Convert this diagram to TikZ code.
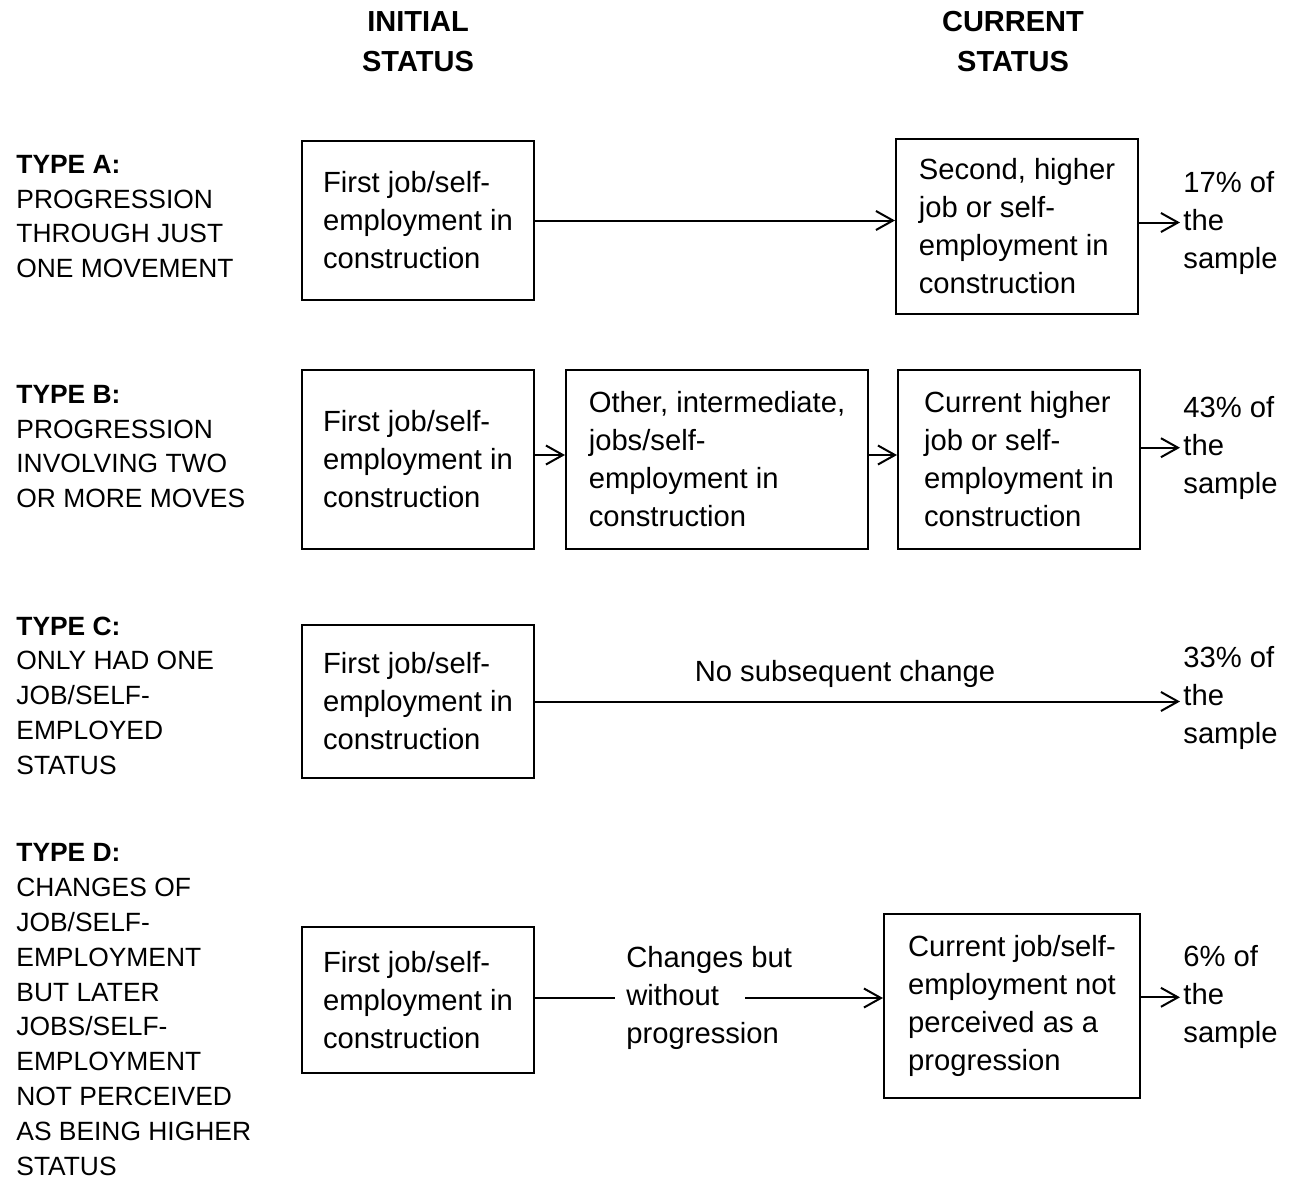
\documentclass[tikz,border=0pt]{standalone}
\usepackage{fontspec}
\setmainfont{Liberation Sans}
\usetikzlibrary{arrows.meta}
\newcommand{\boxfont}{\fontsize{14.6pt}{19pt}\selectfont}
\newcommand{\lblfont}{\fontsize{13.2pt}{17.4pt}\selectfont}
\newcommand{\hdrfont}{\fontsize{14.5pt}{20pt}\selectfont\bfseries}
\begin{document}
\begin{tikzpicture}[x=0.5pt,y=-0.5pt,
  box/.style={draw, line width=1pt, align=left, inner sep=0pt, font=\boxfont},
  rtext/.style={anchor=west, align=left, inner xsep=1.5pt, inner ysep=0pt, font=\boxfont},
  lbl/.style={anchor=west, align=left, inner sep=0pt, font=\lblfont},
  hdr/.style={align=center, inner sep=0pt, font=\hdrfont},
  arr/.style={line width=1pt, -{Straight Barb[length=8.5pt,width=9.5pt,line width=1pt]}},
  ln/.style={line width=1pt}]
\useasboundingbox (0,0) rectangle (1292,1180);

% headers
\node[hdr] (h1) at (418,42) {INITIAL\\STATUS};
\node[hdr] (h2) at (1013,42) {CURRENT\\STATUS};

% left labels
\node[lbl] (la) at (16,216.5) {\textbf{TYPE A:}\\PROGRESSION\\THROUGH JUST\\ONE MOVEMENT};
\node[lbl] (lb) at (16,446.5) {\textbf{TYPE B:}\\PROGRESSION\\INVOLVING TWO\\OR MORE MOVES};
\node[lbl] (lc) at (16,695.5) {\textbf{TYPE C:}\\ONLY HAD ONE\\JOB/SELF-\\EMPLOYED\\STATUS};
\node[lbl] (ld) at (16,1009.5) {\textbf{TYPE D:}\\CHANGES OF\\JOB/SELF-\\EMPLOYMENT\\BUT LATER\\JOBS/SELF-\\EMPLOYMENT\\NOT PERCEIVED\\AS BEING HIGHER\\STATUS};

% Type A
\node[box, minimum width=116pt, minimum height=79.5pt] (A1) at (418,220.5) {First job/self-\\employment in\\construction};
\node[box, minimum width=121pt, minimum height=87.5pt] (A2) at (1017,226.5) {Second, higher\\job or self-\\employment in\\construction};
\node[rtext] (Ar) at (1180,222.5) {17\% of\\the\\sample};
\draw[arr] (A1.east) -- (A1.east -| A2.west);
\draw[arr] (Ar.west -| A2.east) -- (Ar.west);

% Type B
\node[box, minimum width=116pt, minimum height=89.5pt] (B1) at (418,459.5) {First job/self-\\employment in\\construction};
\node[box, minimum width=151pt, minimum height=89.5pt] (B2) at (717,459.5) {Other, intermediate,\\jobs/self-\\employment in\\construction};
\node[box, minimum width=121pt, minimum height=89.5pt] (B3) at (1019,459.5) {Current higher\\job or self-\\employment in\\construction};
\node[rtext] (Br) at (1180,447.7) {43\% of\\the\\sample};
\draw[arr] ([yshift=2.25pt]B1.east) -- ([yshift=2.25pt]B1.east -| B2.west);
\draw[arr] ([yshift=2.25pt]B2.east) -- ([yshift=2.25pt]B2.east -| B3.west);
\draw[arr] (Br.west -| B3.east) -- (Br.west);

% Type C
\node[box, minimum width=116pt, minimum height=76.5pt] (C1) at (418,701.5) {First job/self-\\employment in\\construction};
\node[rtext] (Cr) at (1180,698) {33\% of\\the\\sample};
\node[font=\boxfont, inner sep=0pt] (Cl) at (845,674) {No subsequent change};
\draw[arr] (C1.east) -- (C1.east -| Cr.west);

% Type D
\node[box, minimum width=116pt, minimum height=73pt] (D1) at (418,1000) {First job/self-\\employment in\\construction};
\node[anchor=west, align=left, inner xsep=5.5pt, inner ysep=0pt, font=\boxfont] (Dm) at (615,998) {Changes but\\without\\progression};
\node[box, minimum width=128pt, minimum height=92pt] (D2) at (1012,1006) {Current job/self-\\employment not\\perceived as a\\progression};
\node[rtext] (Dr) at (1180,997.3) {6\% of\\the\\sample};
\coordinate (Dw) at (745,998);
\draw[ln] (Dm.west -| D1.east) -- (Dm.west);
\draw[arr] (Dw) -- (Dw -| D2.west);
\draw[arr] (Dr.west -| D2.east) -- (Dr.west);
\end{tikzpicture}
\end{document}
